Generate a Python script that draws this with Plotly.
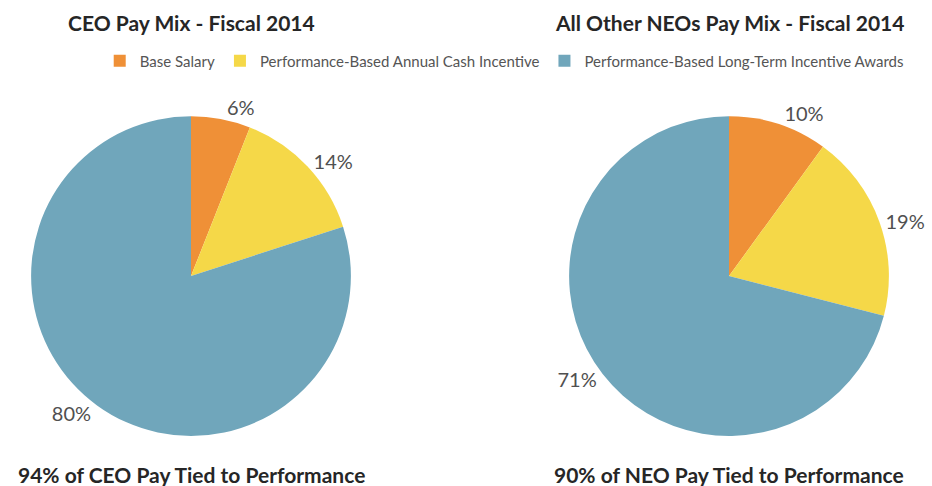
import plotly.graph_objects as go

categories = ["Base Salary", "Performance-Based Annual Cash Incentive",
              "Performance-Based Long-Term Incentive Awards"]
ceo_values = [6, 14, 80]
neo_values = [10, 19, 71]
colors = ["#EF9037", "#F5D848", "#70A6BB"]
titles = ["CEO Pay Mix - Fiscal 2014", "All Other NEOs Pay Mix - Fiscal 2014"]
footers = ["94% of CEO Pay Tied to Performance", "90% of NEO Pay Tied to Performance"]

FONT = "Lato, 'Open Sans', sans-serif"

fig = go.Figure()
centers = [191 / 932, 729 / 932]
half = 0.2
for i, vals in enumerate([ceo_values, neo_values]):
    cx = centers[i]
    fig.add_trace(go.Pie(
        labels=categories, values=vals,
        marker=dict(colors=colors, line=dict(width=0)),
        sort=False, direction="clockwise", rotation=0,
        texttemplate="%{value}%",
        textposition="outside",
        textfont=dict(size=20, color="#505050", family=FONT),
        domain=dict(x=[cx - half, cx + half], y=[0.103, 0.761]),
        showlegend=(i == 0), hoverinfo="label+value",
    ))

annotations = []
for i in range(2):
    annotations.append(dict(text="<b>" + titles[i] + "</b>", x=centers[i], y=1 - 22 / 486,
                            xref="paper", yref="paper", xanchor="center", yanchor="middle",
                            showarrow=False,
                            font=dict(size=21, color="#262626", family=FONT)))
    annotations.append(dict(text="<b>" + footers[i] + "</b>", x=centers[i], y=1 - 474 / 486,
                            xref="paper", yref="paper", xanchor="center", yanchor="middle",
                            showarrow=False,
                            font=dict(size=21, color="#262626", family=FONT)))

fig.update_layout(
    width=932, height=486,
    margin=dict(l=0, r=0, t=0, b=0, autoexpand=False),
    paper_bgcolor="white", plot_bgcolor="white",
    annotations=annotations,
    legend=dict(orientation="h", x=0.541, xanchor="center", y=1 - 61 / 486, yanchor="middle",
                font=dict(size=15, color="#555", family=FONT), itemwidth=30,
                traceorder="normal"),
)
fig.write_html("out.html")
